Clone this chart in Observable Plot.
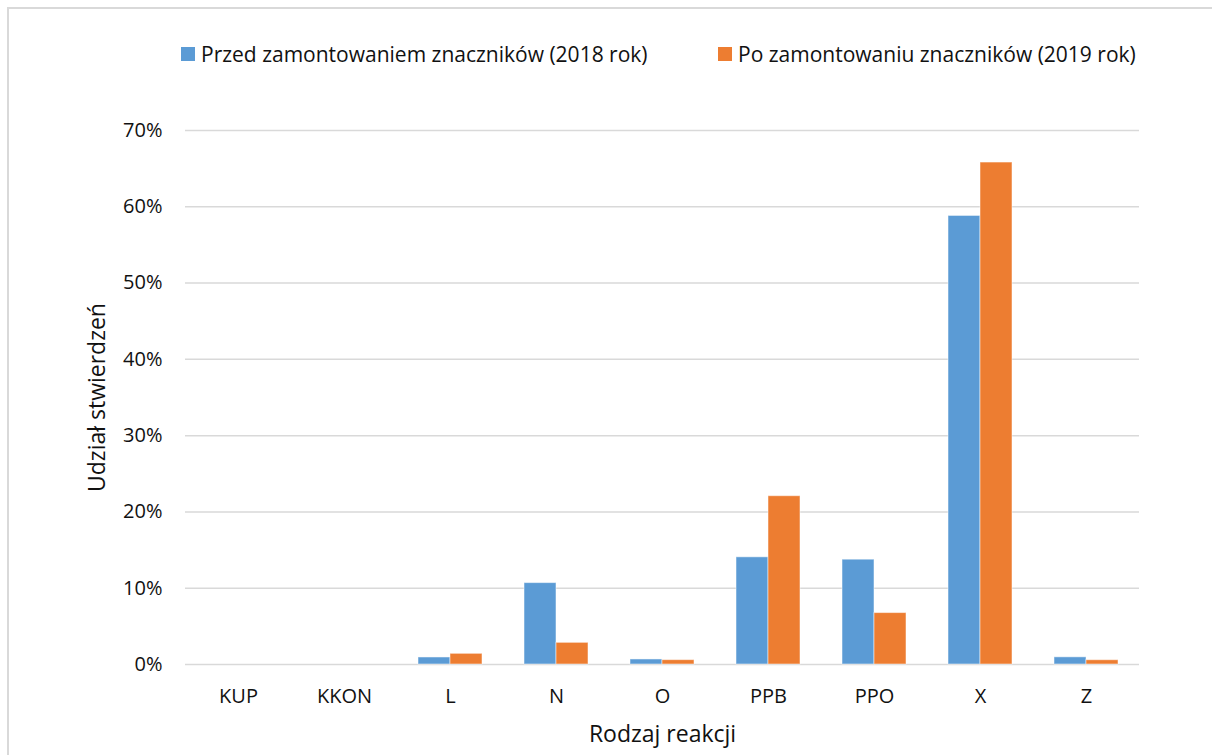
<!DOCTYPE html>
<html>
<head>
<meta charset="utf-8">
<script src="https://cdn.jsdelivr.net/npm/d3@7"></script>
<script src="https://cdn.jsdelivr.net/npm/@observablehq/plot@0.6"></script>
<style>
  html, body { margin: 0; padding: 0; background: #fff; }
  body { width: 1212px; height: 755px; position: relative; overflow: hidden; font-family: "Open Sans", Lato, sans-serif; color: #111; }
  #frame { position: absolute; left: 7px; top: 7px; width: 1230px; height: 770px; border: 2px solid #d9d9d9; box-sizing: border-box; }
  #legend { position: relative; height: 90px; }
  .item { position: absolute; top: 40px; display: flex; align-items: center; font-size: 21px; white-space: nowrap; }
  .swatch { width: 14px; height: 14px; margin-right: 6px; }
  #chart { position: relative; }
</style>
</head>
<body>
<div id="frame"></div>
<div id="legend"></div>
<div id="chart"></div>
<script>
// Reaction types on the x axis
const categories = ["KUP", "KKON", "L", "N", "O", "PPB", "PPO", "X", "Z"];
// The two compared periods
const seriesNames = [
  "Przed zamontowaniem znaczników (2018 rok)",
  "Po zamontowaniu znaczników (2019 rok)"
];
const seriesColors = ["#5b9bd5", "#ed7d31"];
// Share of observations per reaction type
const before2018 = [0, 0, 0.0092, 0.1067, 0.0066, 0.1405, 0.1374, 0.588, 0.0094];
const after2019 = [0, 0, 0.0140, 0.0284, 0.0057, 0.2206, 0.0674, 0.658, 0.0056];
const yTicks = [0, 0.1, 0.2, 0.3, 0.4, 0.5, 0.6, 0.7];

const rows = [];
categories.forEach((c, i) => {
  rows.push({category: c, series: seriesNames[0], value: before2018[i]});
  rows.push({category: c, series: seriesNames[1], value: after2019[i]});
});

// Legend
const legend = document.getElementById("legend");
const legendX = [181, 718];
seriesNames.forEach((name, i) => {
  const item = document.createElement("div");
  item.className = "item";
  item.style.left = legendX[i] + "px";
  item.innerHTML = `<span class="swatch" style="background:${seriesColors[i]}"></span><span>${name}</span>`;
  legend.appendChild(item);
});

const font = "'Open Sans', Lato, sans-serif";

const chart = Plot.plot({
  width: 1212,
  height: 665,
  marginLeft: 183,
  marginRight: 72,
  marginTop: 40,
  marginBottom: 91,
  style: {fontFamily: font, fontSize: "20px", color: "#111", background: "transparent", overflow: "visible"},
  fx: {domain: categories, padding: 0, axis: "bottom", tickSize: 0, tickPadding: 24, label: null},
  x: {domain: seriesNames, paddingInner: 0, paddingOuter: 0.635, axis: null},
  y: {
    domain: [0, 0.7],
    ticks: yTicks,
    tickSize: 0,
    tickPadding: 23,
    tickFormat: d3.format(".0%"),
    label: null
  },
  color: {domain: seriesNames, range: seriesColors},
  marks: [
    Plot.ruleY(yTicks, {stroke: "#d9d9d9", strokeWidth: 1.5}),
    Plot.barY(rows, {
      fx: "category",
      x: "series",
      y: "value",
      fill: "series",
      stroke: "#ffffff",
      strokeOpacity: 0.5,
      strokeWidth: 1
    }),
    // Y axis title, drawn once in the leftmost facet
    Plot.text(["Udział stwierdzeń"], {
      fx: () => categories[0],
      frameAnchor: "left",
      textAnchor: "middle",
      lineAnchor: "middle",
      dx: -88,
      rotate: -90,
      fontSize: 23
    }),
    // X axis title, drawn once under the middle facet
    Plot.text(["Rodzaj reakcji"], {
      fx: () => categories[4],
      frameAnchor: "bottom",
      textAnchor: "middle",
      lineAnchor: "middle",
      dy: 70,
      fontSize: 23
    })
  ]
});
document.getElementById("chart").appendChild(chart);
</script>
</body>
</html>
